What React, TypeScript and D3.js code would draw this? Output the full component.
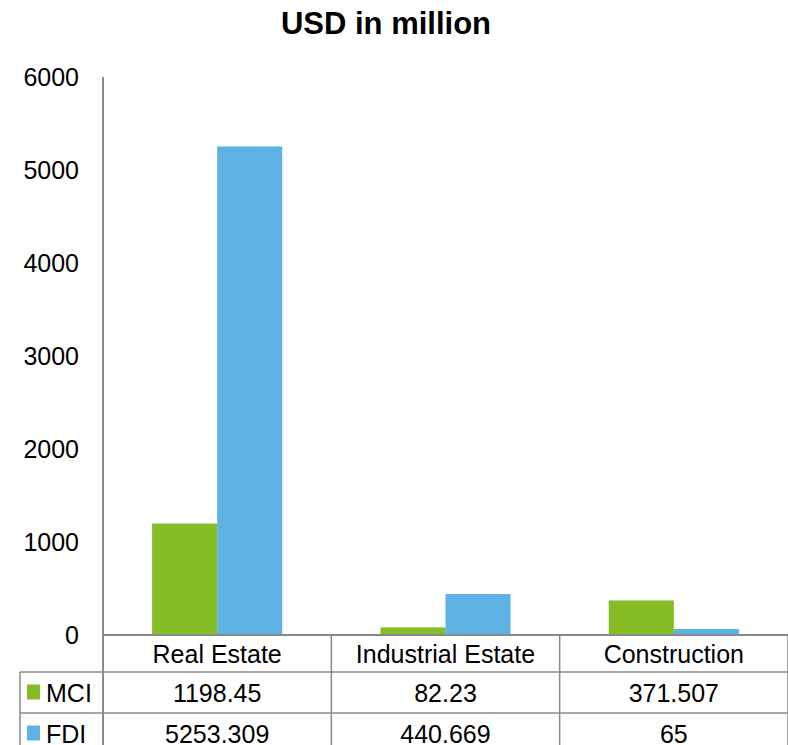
import * as d3 from "d3"

const categories = ["Real Estate", "Industrial Estate", "Construction"]
const seriesNames = ["MCI", "FDI"]
const mciValues = [1198.45, 82.23, 371.507]
const fdiValues = [5253.309, 440.669, 65]
const mciLabels = ["1198.45", "82.23", "371.507"]
const fdiLabels = ["5253.309", "440.669", "65"]
const yTicks = [0, 1000, 2000, 3000, 4000, 5000, 6000]

const colors = ["#86BC25", "#5EB3E4"]
const gridColor = "#898989"
const font = "'Liberation Sans', Arial, sans-serif"

export default function App() {
  const width = 788
  const height = 745
  const left = 103
  const right = 788
  const top = 77
  const base = 635
  const rowLines = [672, 713, 754]

  const x = d3.scaleBand().domain(categories).range([left, right]).paddingInner(0).paddingOuter(0)
  const inner = d3
    .scaleBand()
    .domain(seriesNames)
    .range([0, x.bandwidth()])
    .paddingInner(0)
    .paddingOuter(0.754)
  const y = d3.scaleLinear().domain([0, 6000]).range([base, top])

  const series = [mciValues, fdiValues]
  const labels = [mciLabels, fdiLabels]

  return (
    <svg width={width} height={height} style={{ position: "absolute", left: 0, top: 0 }} fontFamily={font}>
      <rect width={width} height={height} fill="#fff" />
      <text x={386} y={34} textAnchor="middle" fontSize={31} fontWeight="bold">
        USD in million
      </text>

      {yTicks.map((t) => (
        <text key={t} x={79} y={y(t) + 9} textAnchor="end" fontSize={25}>
          {t}
        </text>
      ))}

      {categories.map((c, ci) =>
        seriesNames.map((s, si) => (
          <rect
            key={c + s}
            x={(x(c) ?? 0) + (inner(s) ?? 0)}
            y={y(series[si][ci])}
            width={inner.bandwidth()}
            height={base - y(series[si][ci])}
            fill={colors[si]}
          />
        ))
      )}

      {/* axis */}
      <line x1={left} x2={left} y1={top} y2={height} stroke={gridColor} strokeWidth={2} />
      <line x1={left} x2={right} y1={base} y2={base} stroke={gridColor} strokeWidth={2} />

      {/* data table */}
      {categories.map((c) => (
        <line
          key={"v" + c}
          x1={(x(c) ?? 0) + x.bandwidth()}
          x2={(x(c) ?? 0) + x.bandwidth()}
          y1={base}
          y2={height}
          stroke={gridColor}
          strokeWidth={1.5}
        />
      ))}
      <line x1={20} x2={20} y1={rowLines[0]} y2={height} stroke={gridColor} strokeWidth={1.5} />
      {rowLines.map((r) => (
        <line key={"h" + r} x1={20} x2={right} y1={r} y2={r} stroke={gridColor} strokeWidth={1.5} />
      ))}

      {categories.map((c) => (
        <text key={"c" + c} x={(x(c) ?? 0) + x.bandwidth() / 2} y={663} textAnchor="middle" fontSize={25}>
          {c}
        </text>
      ))}

      {seriesNames.map((s, si) => {
        const rowTop = rowLines[si]
        const mid = rowTop + (rowLines[si + 1] - rowTop) / 2
        return (
          <g key={"row" + s}>
            <rect x={27} y={mid - 8} width={13} height={15} fill={colors[si]} />
            <text x={46} y={mid + 9} fontSize={25}>
              {s}
            </text>
            {categories.map((c, ci) => (
              <text key={c} x={(x(c) ?? 0) + x.bandwidth() / 2} y={mid + 9} textAnchor="middle" fontSize={25}>
                {labels[si][ci]}
              </text>
            ))}
          </g>
        )
      })}
    </svg>
  )
}
